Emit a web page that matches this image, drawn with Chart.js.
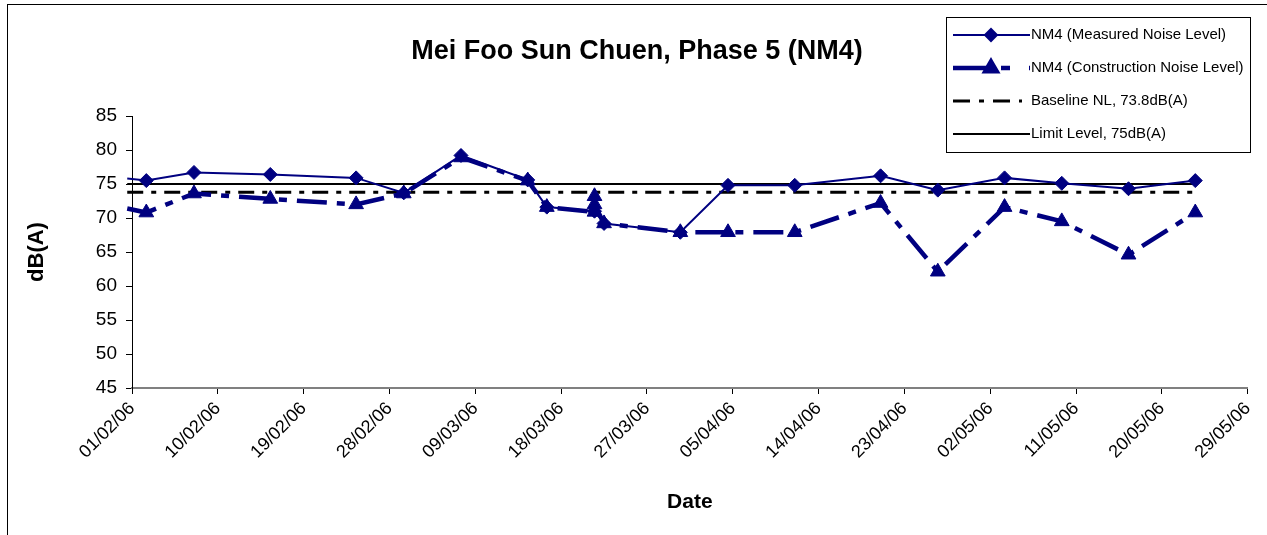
<!DOCTYPE html>
<html>
<head>
<meta charset="utf-8">
<script src="https://cdn.jsdelivr.net/npm/chart.js@4.4.1/dist/chart.umd.min.js"></script>
<style>
  html, body { margin: 0; padding: 0; background: #fff; }
  #wrap { width: 1267px; height: 535px; }
</style>
</head>
<body>
<div id="wrap"><canvas id="myChart" width="1267" height="535"></canvas></div>
<script>
// monitoring dates (dd/mm/yy) and noise levels, dB(A)
var measuredDates = ['31/01/06', '02/02/06', '07/02/06', '15/02/06', '24/02/06', '01/03/06', '07/03/06',
  '14/03/06', '16/03/06', '21/03/06', '22/03/06', '30/03/06', '04/04/06', '11/04/06', '20/04/06',
  '26/04/06', '03/05/06', '09/05/06', '16/05/06', '23/05/06'];
var measuredLevels = [75.8, 75.5, 76.7, 76.4, 75.9, 73.7, 79.2,
  75.6, 71.6, 71.0, 69.2, 67.9, 74.8, 74.8, 76.2,
  74.1, 75.9, 75.1, 74.3, 75.5];

var constructionDates = ['31/01/06', '02/02/06', '07/02/06', '15/02/06', '24/02/06', '01/03/06', '07/03/06',
  '14/03/06', '16/03/06', '21/03/06', '21/03/06', '21/03/06', '22/03/06', '30/03/06', '04/04/06',
  '11/04/06', '20/04/06', '26/04/06', '03/05/06', '09/05/06', '16/05/06', '23/05/06'];
var constructionLevels = [71.4, 70.8, 73.6, 72.8, 72.0, 73.6, 78.9,
  75.5, 71.6, 70.9, 73.2, 72.0, 69.2, 67.9, 67.9,
  67.9, 72.2, 62.1, 71.6, 69.5, 64.6, 70.8];

var baselineDates = ['31/01/06', '23/05/06'];
var baselineLevels = [73.8, 73.8];
var limitDates = ['31/01/06', '23/05/06'];
var limitLevels = [75, 75];

var xTickLabels = ['01/02/06', '10/02/06', '19/02/06', '28/02/06', '09/03/06', '18/03/06', '27/03/06',
  '05/04/06', '14/04/06', '23/04/06', '02/05/06', '11/05/06', '20/05/06', '29/05/06'];

var navy = '#000080';
var fontFamily = "'Liberation Sans', Arial, sans-serif";

// days since 01/02/06, readings sit at mid-day
function dayOf(s) {
  var p = s.split('/');
  var t = Date.UTC(2000 + parseInt(p[2], 10), parseInt(p[1], 10) - 1, parseInt(p[0], 10));
  return (t - Date.UTC(2006, 1, 1)) / 86400000 + 0.5;
}
function toPoints(dates, levels) {
  return dates.map(function(d, i) { return {x: dayOf(d), y: levels[i]}; });
}
function hideEarly(ctx, r) {
  return ctx.raw && ctx.raw.x < 0 ? 0 : r;
}

var legendBox = {
  id: 'legendBox',
  afterDraw: function(chart) {
    var ctx = chart.ctx;
    ctx.save();
    // outer frame
    ctx.strokeStyle = '#000';
    ctx.lineWidth = 1;
    ctx.strokeRect(7.5, 4.5, 1400, 700);

    // title
    ctx.fillStyle = '#000';
    ctx.font = 'bold 27px ' + fontFamily;
    ctx.textAlign = 'center';
    ctx.textBaseline = 'middle';
    ctx.fillText('Mei Foo Sun Chuen, Phase 5 (NM4)', 637, 52);

    // legend
    ctx.fillStyle = '#fff';
    ctx.fillRect(946, 17, 304, 135);
    ctx.strokeRect(946.5, 17.5, 304, 135);

    var rows = [0, 1, 2, 3];
    var ends = [1030, 1030, 1022, 1030];
    ctx.font = '15px ' + fontFamily;
    ctx.textAlign = 'left';
    rows.forEach(function(di, i) {
      var ds = chart.data.datasets[di];
      var y = 35 + i * 33;
      ctx.save();
      ctx.strokeStyle = ds.borderColor;
      ctx.lineWidth = ds.borderWidth;
      ctx.lineCap = 'butt';
      ctx.setLineDash(ds.legendDash || ds.borderDash || []);
      ctx.beginPath();
      ctx.moveTo(953, y);
      ctx.lineTo(ends[i], y);
      ctx.stroke();
      ctx.setLineDash([]);
      if (ds.legendMarker) {
        ctx.fillStyle = ds.pointBackgroundColor;
        ctx.strokeStyle = ds.pointBorderColor;
        Chart.helpers.drawPoint(ctx, {
          pointStyle: ds.pointStyle, rotation: 0, radius: ds.legendMarker, borderWidth: 1
        }, 991, y);
      }
      ctx.restore();
      ctx.fillStyle = '#000';
      ctx.fillText(ds.label, 1031, y);
    });
    ctx.restore();
  }
};

var ctx = document.getElementById('myChart');
var noiseChart = new Chart(ctx, {
  type: 'line',
  data: {
    datasets: [{
      label: 'NM4 (Measured Noise Level)',
      data: toPoints(measuredDates, measuredLevels),
      borderColor: navy,
      borderWidth: 2,
      pointStyle: 'rectRot',
      pointRadius: function(c) { return hideEarly(c, 7); },
      pointBackgroundColor: navy,
      pointBorderColor: navy,
      pointBorderWidth: 1,
      legendMarker: 6,
      clip: {left: 6, top: 0, right: 0, bottom: 0},
      order: 2
    }, {
      label: 'NM4 (Construction Noise Level)',
      data: toPoints(constructionDates, constructionLevels),
      borderColor: navy,
      borderWidth: 4.5,
      borderDash: [30, 10, 8, 10],
      legendDash: [40, 8, 9, 19, 6],
      borderCapStyle: 'butt',
      pointStyle: 'triangle',
      pointRadius: function(c) { return hideEarly(c, 8.5); },
      pointBackgroundColor: navy,
      pointBorderColor: navy,
      pointBorderWidth: 1,
      legendMarker: 6.5,
      clip: {left: 6, top: 0, right: 0, bottom: 0},
      order: 1
    }, {
      label: 'Baseline NL, 73.8dB(A)',
      data: toPoints(baselineDates, baselineLevels),
      borderColor: '#000',
      borderWidth: 3,
      borderDash: [16, 8, 5, 8],
      legendDash: [17, 9, 5, 9],
      borderCapStyle: 'butt',
      pointRadius: 0,
      clip: {left: 6, top: 0, right: 0, bottom: 0},
      order: 3
    }, {
      label: 'Limit Level, 75dB(A)',
      data: toPoints(limitDates, limitLevels),
      borderColor: '#000',
      borderWidth: 2,
      pointRadius: 0,
      clip: {left: 6, top: 0, right: 0, bottom: 0},
      order: 4
    }]
  },
  options: {
    responsive: false,
    animation: false,
    devicePixelRatio: 1,
    layout: {padding: {top: 116, right: 17, left: 0, bottom: 0}},
    plugins: {
      legend: {display: false},
      tooltip: {enabled: false}
    },
    scales: {
      x: {
        type: 'linear',
        min: 0,
        max: 117,
        afterFit: function(scale) { scale.height = 147; },
        ticks: {
          stepSize: 9,
          autoSkip: false,
          minRotation: 45,
          maxRotation: 45,
          padding: 4,
          color: '#000',
          font: {family: fontFamily, size: 18},
          callback: function(v, i) { return xTickLabels[i]; }
        },
        grid: {drawOnChartArea: false, tickLength: 6, tickColor: '#000'},
        border: {color: '#808080', width: 2},
        title: {
          display: true,
          text: 'Date',
          color: '#000',
          font: {family: fontFamily, size: 21, weight: 'bold'},
          padding: {top: 0, bottom: 20}
        }
      },
      y: {
        min: 45,
        max: 85,
        afterFit: function(scale) { scale.width = 132; },
        ticks: {
          stepSize: 5,
          padding: 9,
          color: '#000',
          font: {family: fontFamily, size: 19}
        },
        grid: {drawOnChartArea: false, tickLength: 6, tickColor: '#000'},
        border: {color: '#000', width: 1},
        title: {
          display: true,
          text: 'dB(A)',
          color: '#000',
          font: {family: fontFamily, size: 22, weight: 'bold'},
          padding: {top: 24, bottom: 0}
        }
      }
    }
  },
  plugins: [legendBox]
});
</script>
</body>
</html>
